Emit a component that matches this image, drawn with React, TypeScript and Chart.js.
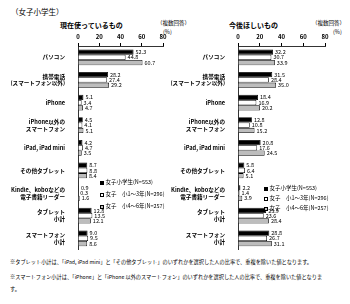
import React, { useEffect, useRef } from 'react';
import { Chart, registerables } from 'chart.js';
Chart.register(...registerables);

const FONT = '"Noto Sans CJK JP", "Noto Sans", sans-serif';

const categories: string[][] = [
  ['パソコン'],
  ['携帯電話', '(スマートフォン以外)'],
  ['iPhone'],
  ['iPhone以外の', 'スマートフォン'],
  ['iPad, iPad mini'],
  ['その他タブレット'],
  ['Kindle、koboなどの', '電子書籍リーダー'],
  ['タブレット', '小計'],
  ['スマートフォン', '小計'],
];
const seriesNames = ['女子小学生(N=553)', '女子　小1～3年(N=296)', '女子　小4～6年(N=257)'];
const currentAll = [52.3, 28.2, 5.1, 4.5, 4.2, 8.7, 0.9, 12.8, 9.0];
const currentLower = [44.8, 27.4, 3.4, 4.1, 4.7, 8.8, 0.3, 13.5, 9.5];
const currentUpper = [60.7, 29.2, 4.7, 5.1, 3.5, 8.4, 1.6, 12.1, 8.6];
const wantAll = [32.2, 31.5, 18.4, 12.8, 20.8, 5.8, 2.2, 25.9, 28.8];
const wantLower = [30.7, 28.4, 16.9, 10.8, 17.6, 6.4, 1.4, 23.6, 26.7];
const wantUpper = [33.9, 35.0, 20.2, 15.2, 24.5, 5.1, 3.9, 28.4, 31.1];
const xMin = 0;
const xMax = 80;
const xStep = 20;
const seriesColors = ['#000000', '#ffffff', '#bdbdbd'];

const valueLabels = {
  id: 'valueLabels',
  afterDatasetsDraw(chart: any) {
    const ctx = chart.ctx;
    ctx.save();
    ctx.font = `5.5px ${FONT}`;
    ctx.fillStyle = '#000';
    ctx.textBaseline = 'middle';
    ctx.textAlign = 'left';
    chart.data.datasets.forEach((ds: any, i: number) => {
      const meta = chart.getDatasetMeta(i);
      meta.data.forEach((bar: any, j: number) => {
        const v = ds.data[j];
        ctx.fillText(Number(v).toFixed(1), bar.x + 2, bar.y);
      });
    });
    ctx.restore();
  },
};

function BarPanel(props: { data: number[][]; yWidth: number; rightPad: number; left: number; top: number; width: number; height: number }) {
  const ref = useRef<HTMLCanvasElement | null>(null);
  useEffect(() => {
    if (!ref.current) return;
    const chart = new Chart(ref.current, {
      type: 'bar',
      data: {
        labels: categories,
        datasets: props.data.map((d, i) => ({
          label: seriesNames[i],
          data: d,
          backgroundColor: seriesColors[i],
          borderColor: '#000',
          borderWidth: 0.8,
          categoryPercentage: 0.7,
          barPercentage: 1.0,
        })),
      },
      options: {
        indexAxis: 'y',
        animation: false,
        responsive: false,
        devicePixelRatio: 1,
        layout: { padding: { left: 0, right: props.rightPad, top: 0, bottom: 3 } },
        plugins: { legend: { display: false }, tooltip: { enabled: false } },
        scales: {
          x: {
            position: 'top',
            min: xMin,
            max: xMax,
            ticks: { stepSize: xStep, font: { size: 6, family: FONT, weight: 'bold' }, color: '#000', padding: 3 },
            grid: { drawOnChartArea: false, color: '#000', tickLength: 3 },
            border: { color: '#000', width: 0.8 },
            afterFit: (s: any) => { s.height = 16; },
          },
          y: {
            ticks: { font: { size: 5.6, family: FONT, weight: 'bold' }, color: '#000', padding: 5, autoSkip: false },
            grid: { display: false },
            border: { color: '#000', width: 0.8 },
            afterFit: (s: any) => { s.width = props.yWidth; },
          },
        },
      } as any,
      plugins: [valueLabels],
    });
    return () => chart.destroy();
  }, []);
  return (
    <canvas
      ref={ref}
      width={props.width}
      height={props.height}
      style={{ position: 'absolute', left: props.left, top: props.top, width: props.width, height: props.height }}
    />
  );
}

const txt = (extra: React.CSSProperties): React.CSSProperties => ({
  position: 'absolute',
  fontFamily: FONT,
  color: '#000',
  whiteSpace: 'nowrap',
  lineHeight: 1,
  ...extra,
});

function Legend(props: { left: number; top: number; gap: number }) {
  return (
    <div style={txt({ left: props.left, top: props.top, fontSize: 5.5 })}>
      {seriesNames.map((n, i) => (
        <div key={i} style={{ display: 'flex', alignItems: 'center', height: props.gap }}>
          <span style={{ display: 'inline-block', width: 4, height: 4, background: seriesColors[i], border: '0.8px solid #000', marginRight: 1.5, boxSizing: 'border-box' }} />
          <span>{n}</span>
        </div>
      ))}
    </div>
  );
}

export default function App() {
  return (
    <div style={{ position: 'absolute', left: 0, top: 0, width: 350, height: 304, background: '#fff', overflow: 'hidden' }}>
      <div style={txt({ left: 11, top: 8, fontSize: 7.5 })}>（女子小学生）</div>
      <div style={txt({ left: 60, top: 22, fontSize: 7, fontWeight: 'bold' })}>現在使っているもの</div>
      <div style={txt({ left: 157, top: 21, fontSize: 5.5 })}>（複数回答）</div>
      <div style={txt({ left: 163, top: 30, fontSize: 5.5 })}>(%)</div>
      <div style={txt({ left: 229, top: 22, fontSize: 7, fontWeight: 'bold' })}>今後ほしいもの</div>
      <div style={txt({ left: 312, top: 21, fontSize: 5.5 })}>（複数回答）</div>
      <div style={txt({ left: 333, top: 30, fontSize: 5.5 })}>(%)</div>
      <BarPanel data={[currentAll, currentLower, currentUpper]} yWidth={78} rightPad={12} left={0} top={30} width={175} height={228} />
      <BarPanel data={[wantAll, wantLower, wantUpper]} yWidth={78} rightPad={25} left={160} top={30} width={190} height={228} />
      <Legend left={100} top={177} gap={12} />
      <Legend left={264} top={184} gap={10} />
      <div style={txt({ left: 10, top: 259, fontSize: 5.2 })}>※タブレット小計は、「iPad, iPad mini」と「その他タブレット」のいずれかを選択した人の比率で、重複を除いた値となります。</div>
      <div style={txt({ left: 10, top: 274, fontSize: 5.2 })}>※スマートフォン小計は、「iPhone」と「iPhone 以外のスマートフォン」のいずれかを選択した人の比率で、重複を除いた値となりま</div>
      <div style={txt({ left: 10, top: 286, fontSize: 5.2 })}>す。</div>
    </div>
  );
}
